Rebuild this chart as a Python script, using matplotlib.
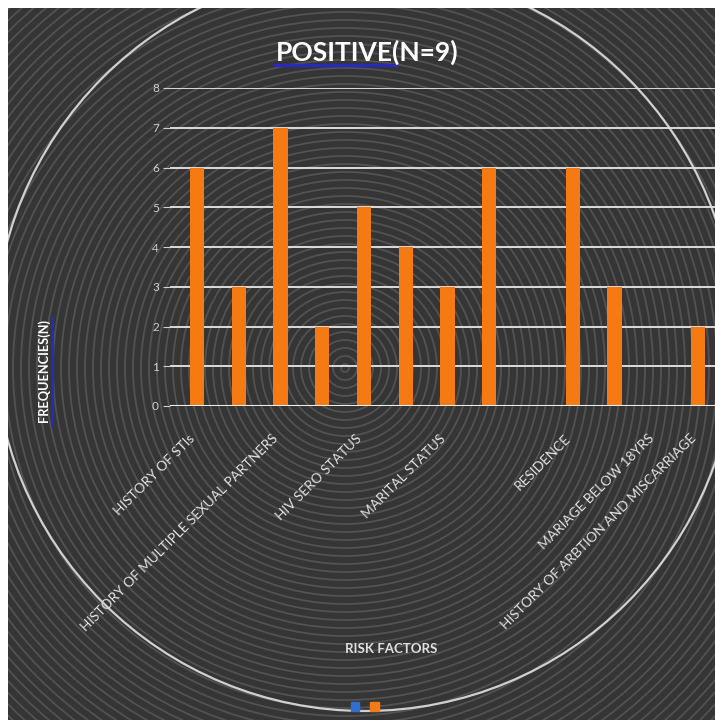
import matplotlib.pyplot as plt
from matplotlib.patches import Circle, Patch

plt.rcParams["font.family"] = ["Lato", "DejaVu Sans"]

# data
slots = list(range(13))
positive = [6, 3, 7, 2, 5, 4, 3, 6, 0, 6, 3, 0, 2]
negative = [0] * 13
label_slots = [0, 2, 4, 6, 9, 11, 12]
label_names = [
    "HISTORY OF STIs",
    "HISTORY OF MULTIPLE SEXUAL PARTNERS",
    "HIV SERO STATUS",
    "MARITAL STATUS",
    "RESIDENCE",
    "MARIAGE BELOW 18YRS",
    "HISTORY OF ARBTION AND MISCARRIAGE",
]
y_ticks = [0, 1, 2, 3, 4, 5, 6, 7, 8]

W, H = 715, 720
fig = plt.figure(figsize=(W / 100, H / 100), dpi=100)
fig.patch.set_facecolor("white")

# background panel in pixel units
bg = fig.add_axes([8 / W, 0, 1 - 8 / W, 1 - 8 / H])
bg.set_xlim(8, W)
bg.set_ylim(H, 8)
bg.set_facecolor("#353535")
bg.set_xticks([])
bg.set_yticks([])
for s in bg.spines.values():
    s.set_visible(False)
for r in range(4, 760, 8):
    bg.add_patch(Circle((345, 368), r, fill=False, ec="#525252", lw=1.3))
bg.add_patch(Circle((365, 340), 371, fill=False, ec="#d0d0d0", lw=1.6))

# main chart
ax = fig.add_axes([170 / W, (H - 406) / H, (W - 170) / W, 318 / H])
ax.patch.set_alpha(0)
ax.bar(slots, negative, width=0.34, color="#2f6fd0")
ax.bar(slots, positive, width=0.34, color="#f57a14", zorder=3)
ax.set_xlim(-0.647, 12.41)
ax.set_ylim(0, 8)
ax.set_yticks(y_ticks)
ax.set_yticklabels([str(t) for t in y_ticks])
ax.grid(axis="y", color="#dcdcdc", lw=1.4)
ax.set_axisbelow(True)
for s in ax.spines.values():
    s.set_visible(False)
ax.axhline(0, color="#eeeeee", lw=2.2, zorder=4)
ax.tick_params(axis="y", colors="#d0d0d0", labelsize=8.5, length=5, pad=3)
ax.set_xticks(label_slots)
ax.set_xticklabels(label_names, rotation=45, ha="right", va="bottom",
                   rotation_mode="anchor", color="#e2e2e2", fontsize=9.8)
ax.tick_params(axis="x", length=0, pad=25)

fig.text(0.513, 1 - 52 / H, "POSITIVE(N=9)", ha="center", va="center",
         color="white", fontsize=19, fontweight="bold")
fig.add_artist(plt.Line2D([275 / W, 396 / W], [1 - 65 / H, 1 - 65 / H],
                          color="#2a2ab8", lw=2.5))
fig.text(44 / W, 1 - 371 / H, "FREQUENCIES(N)", rotation=90, ha="center",
         va="center", color="white", fontsize=9.2, fontweight="bold")
fig.add_artist(plt.Line2D([52 / W, 52 / W], [1 - 426 / H, 1 - 318 / H],
                          color="#2a2ab8", lw=2))
fig.text(391 / W, 1 - 649 / H, "RISK FACTORS", ha="center", va="center",
         color="#e0e0e0", fontsize=9.5, fontweight="bold")

fig.legend(handles=[Patch(color="#2f6fd0"), Patch(color="#f57a14")],
           labels=["", ""], ncol=2, loc="center", bbox_to_anchor=(366 / W, 1 - 707 / H),
           frameon=False, handlelength=0.6, handleheight=0.6, columnspacing=0.6,
           handletextpad=0.2)

plt.savefig("out.png", dpi=100)
